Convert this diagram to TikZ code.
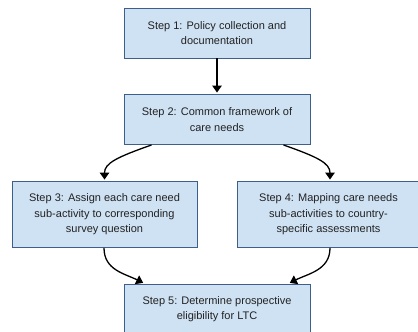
\documentclass[tikz,border=0pt]{standalone}
\usepackage{fontspec}
\setmainfont{Liberation Sans}
\usetikzlibrary{arrows.meta}
\definecolor{boxfill}{HTML}{CFE2F3}
\definecolor{boxline}{HTML}{3D5F8A}
\definecolor{txt}{HTML}{222222}
\tikzset{
  stepbox/.style={draw=boxline, line width=0.9pt, fill=boxfill, inner sep=0pt,
    align=center, text=txt, font=\fontsize{11}{15.6}\selectfont},
  conn/.style={draw=black, line width=1.3pt, -{Triangle[length=7pt,width=9.5pt]}, shorten >=1.5pt}
}
\begin{document}
\begin{tikzpicture}[x=1pt,y=-1pt]
\useasboundingbox (0,0) rectangle (418,332);
\fill[white] (0,0) rectangle (418,332);
\clip (0,0) rectangle (418,332);
\node[stepbox, minimum width=186pt, minimum height=50pt] (b1) at (217,33) {Step 1: Policy collection and\\documentation};
\node[stepbox, minimum width=186pt, minimum height=50pt] (b2) at (217,119.5) {Step 2: Common framework of\\care needs};
\node[stepbox, minimum width=185pt, minimum height=66pt] (b3) at (104.5,214.5) {Step 3: Assign each care need\\sub-activity to corresponding\\survey question};
\node[stepbox, minimum width=183pt, minimum height=66pt] (b4) at (328.5,214.5) {Step 4: Mapping care needs\\sub-activities to country-\\specific assessments};
\node[stepbox, minimum width=186pt, minimum height=50pt] (b5) at (217,309) {Step 5: Determine prospective\\eligibility for LTC};
\draw[conn] (b1) -- (b2);
\draw[conn] ([xshift=28pt]b2.south west) .. controls +(-34,12) and +(0,-18) .. (b3.north);
\draw[conn] ([xshift=-27pt]b2.south east) .. controls +(34,12) and +(0,-18) .. ([xshift=1.5pt]b4.north);
\draw[conn] ([xshift=-0.5pt]b3.south) .. controls +(0,22) and +(-20,-10) .. ([xshift=21pt]b5.north west);
\draw[conn] ([xshift=1.5pt]b4.south) .. controls +(0,22) and +(20,-10) .. ([xshift=-22pt]b5.north east);
\end{tikzpicture}
\end{document}
